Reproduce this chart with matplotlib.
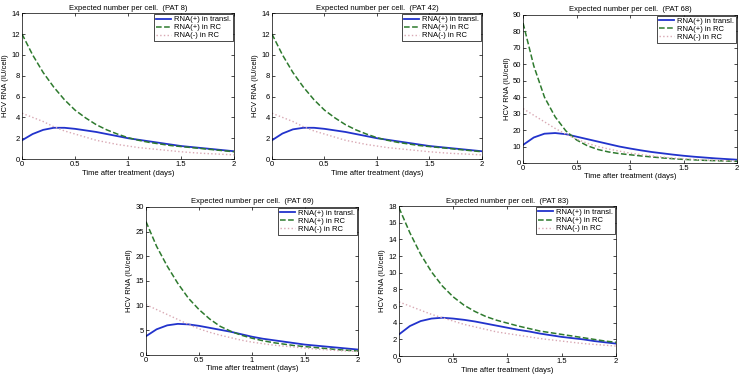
import matplotlib
matplotlib.use("Agg")
import matplotlib.pyplot as plt

plt.rcParams["font.family"] = ["Liberation Sans Narrow", "Liberation Sans", "DejaVu Sans"]

# time points (days)
t = [0.0, 0.1, 0.2, 0.3, 0.4, 0.5, 0.6, 0.7, 0.8, 0.9, 1.0,
     1.1, 1.2, 1.3, 1.4, 1.5, 1.6, 1.7, 1.8, 1.9, 2.0]

# PAT 8
p8_transl = [1.8, 2.4, 2.8, 3.0, 3.0, 2.9, 2.75, 2.6, 2.4, 2.2, 2.0,
             1.85, 1.7, 1.55, 1.4, 1.25, 1.15, 1.05, 0.95, 0.85, 0.75]
p8_rc_pos = [12.0, 10.0, 8.3, 6.9, 5.7, 4.7, 3.95, 3.3, 2.8, 2.4, 2.05,
             1.8, 1.6, 1.45, 1.3, 1.2, 1.1, 1.0, 0.9, 0.8, 0.7]
p8_rc_neg = [4.4, 4.0, 3.6, 3.1, 2.7, 2.4, 2.1, 1.8, 1.6, 1.4, 1.25,
             1.1, 1.0, 0.9, 0.8, 0.7, 0.62, 0.55, 0.5, 0.45, 0.4]

# PAT 42
p42_transl = [1.8, 2.45, 2.85, 3.0, 3.0, 2.9, 2.75, 2.6, 2.4, 2.2, 2.0,
              1.85, 1.7, 1.55, 1.4, 1.25, 1.15, 1.05, 0.95, 0.85, 0.75]
p42_rc_pos = [12.0, 10.0, 8.3, 6.9, 5.7, 4.7, 3.95, 3.3, 2.8, 2.4, 2.05,
              1.8, 1.6, 1.45, 1.3, 1.2, 1.1, 1.0, 0.9, 0.8, 0.7]
p42_rc_neg = [4.4, 4.0, 3.6, 3.1, 2.7, 2.4, 2.1, 1.8, 1.6, 1.4, 1.25,
              1.1, 1.0, 0.9, 0.8, 0.7, 0.62, 0.55, 0.5, 0.45, 0.4]

# PAT 68
p68_transl = [11, 15.5, 17.8, 18.2, 17.5, 16, 14.5, 13, 11.5, 10, 8.8,
              7.7, 6.7, 5.9, 5.1, 4.4, 3.8, 3.3, 2.8, 2.4, 2.0]
p68_rc_pos = [85, 59, 40, 28, 19.5, 14, 10.5, 8.2, 6.7, 5.7, 5.0,
              4.3, 3.7, 3.1, 2.6, 2.2, 1.9, 1.6, 1.4, 1.2, 1.0]
p68_rc_neg = [33, 29, 25, 21, 17.5, 14.5, 12, 10, 8.5, 7.2, 6,
              5.1, 4.3, 3.6, 3.0, 2.6, 2.2, 1.9, 1.6, 1.4, 1.2]

# PAT 69
p69_transl = [3.8, 5.2, 6.0, 6.3, 6.2, 5.9, 5.5, 5.1, 4.7, 4.2, 3.7,
              3.3, 3.0, 2.7, 2.4, 2.1, 1.9, 1.7, 1.5, 1.3, 1.1]
p69_rc_pos = [27, 22, 18, 14.5, 11.5, 9.2, 7.3, 5.8, 4.8, 4.0, 3.4,
              2.9, 2.5, 2.2, 1.9, 1.7, 1.5, 1.3, 1.1, 0.95, 0.8]
p69_rc_neg = [10.2, 9.2, 8.2, 7.2, 6.2, 5.3, 4.6, 4.0, 3.5, 3.0, 2.6,
              2.3, 2.0, 1.8, 1.6, 1.4, 1.2, 1.05, 0.9, 0.8, 0.7]

# PAT 83
p83_transl = [2.6, 3.6, 4.2, 4.5, 4.6, 4.5, 4.35, 4.15, 3.9, 3.65, 3.4,
              3.15, 2.95, 2.7, 2.5, 2.3, 2.15, 2.0, 1.8, 1.65, 1.5]
p83_rc_pos = [17.8, 14.8, 12.2, 10.1, 8.4, 7.1, 6.1, 5.35, 4.75, 4.3, 3.95,
              3.6, 3.3, 3.0, 2.8, 2.6, 2.4, 2.2, 2.0, 1.8, 1.65]
p83_rc_neg = [6.5, 6.0, 5.5, 5.0, 4.6, 4.2, 3.8, 3.5, 3.2, 2.9, 2.7,
              2.5, 2.3, 2.1, 1.95, 1.8, 1.65, 1.5, 1.4, 1.3, 1.2]

panels = [
    ("8", p8_transl, p8_rc_pos, p8_rc_neg, 14, [0.0296, 0.577, 0.2853, 0.388]),
    ("42", p42_transl, p42_rc_pos, p42_rc_neg, 14, [0.366, 0.577, 0.2826, 0.388]),
    ("68", p68_transl, p68_rc_pos, p68_rc_neg, 90, [0.704, 0.5665, 0.288, 0.394]),
    ("69", p69_transl, p69_rc_pos, p69_rc_neg, 30, [0.1965, 0.0559, 0.2853, 0.394]),
    ("83", p83_transl, p83_rc_pos, p83_rc_neg, 18, [0.537, 0.053, 0.292, 0.399]),
]

fs = 5.5
fig = plt.figure(figsize=(7.43, 3.76), dpi=100)

for pat, tr, pos, neg, ymax, rect in panels:
    ax = fig.add_axes(rect)
    ax.plot(t, tr, color="#2233cc", lw=1.3, label="RNA(+) in transl.")
    ax.plot(t, pos, color="#2e7a2e", lw=1.1, ls="--", label="RNA(+) in RC")
    ax.plot(t, neg, color="#d9a9b4", lw=1.0, ls=":", label="RNA(-) in RC")
    ax.set_xlim(0, 2)
    ax.set_ylim(0, ymax)
    ax.set_xticks([0, 0.5, 1, 1.5, 2])
    ax.set_xticklabels(["0", "0.5", "1", "1.5", "2"])
    ax.tick_params(direction="in", labelsize=fs, length=2, width=0.5, pad=1.5,
                   top=True, right=True)
    for s in ax.spines.values():
        s.set_linewidth(0.5)
    ax.set_title(f"Expected number per cell.  (PAT {pat})", fontsize=fs, pad=2.5)
    ax.set_xlabel("Time after treatment (days)", fontsize=fs, labelpad=1)
    ax.set_ylabel("HCV RNA (IU/cell)", fontsize=fs, labelpad=1.5)
    leg = ax.legend(loc="upper right", fontsize=fs, fancybox=False,
                    borderpad=0.25, labelspacing=0.1, handlelength=2.0,
                    handletextpad=0.4, borderaxespad=0.1, framealpha=1)
    leg.get_frame().set_edgecolor("black")
    leg.get_frame().set_linewidth(0.5)

fig.savefig("out.png", dpi=100)
